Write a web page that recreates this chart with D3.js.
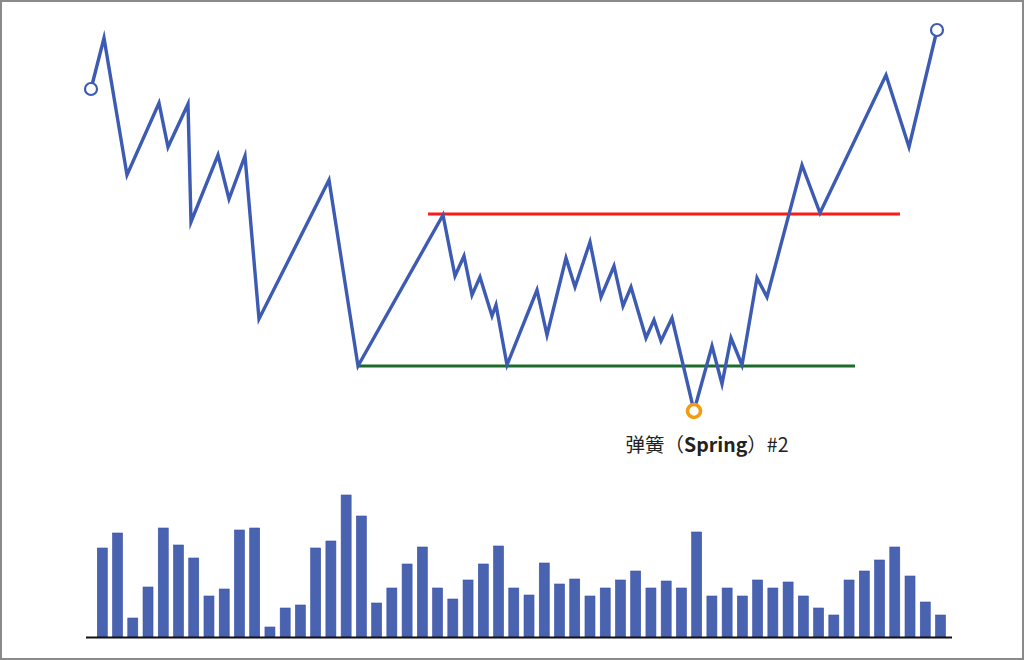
<!DOCTYPE html>
<html>
<head>
<meta charset="utf-8">
<script src="https://cdn.jsdelivr.net/npm/d3@7"></script>
<style>
html,body{margin:0;padding:0;background:#fff;}
svg{display:block;}
</style>
</head>
<body>
<svg id="chart" width="1024" height="660"></svg>
<script>
// ---- data ----
// time positions of price swing points
const priceTimes = [0, 13, 36, 68, 77, 97, 100, 127, 138, 154, 168, 238, 267, 352, 364, 373, 381, 389, 401, 405, 416, 446, 456, 475, 484, 499, 510, 523, 532, 540, 555, 563, 570, 581, 603, 621, 631, 640, 651, 666, 676, 711, 729, 795, 818, 846];
// price of each swing point
const priceValues = [361, 412, 275, 347, 303, 346, 228, 295, 251, 294, 131, 270, 84, 235, 174, 194, 155, 173, 134, 145, 85, 160, 115, 192, 163, 208, 153, 184, 144, 163, 112, 130, 109, 132, 39, 104, 66, 112, 85, 172, 153, 285, 237, 375, 303, 420];
// horizontal levels
const resistance = {name: "resistance", price: 236, from: 337, to: 809};
const support = {name: "support", price: 84, from: 267, to: 764};
// spring annotation
const springIndex = 34;
const springLabelCn1 = "弹簧（";
const springLabelEn = "Spring";
const springLabelCn2 = "）#2";
// volume bars
const volumes = [89, 104, 19, 50, 109, 92, 79, 41, 48, 107, 109, 10, 29, 32, 89, 96, 142, 121, 34, 49, 73, 90, 49, 38, 57, 73, 91, 49, 42, 74, 53, 58, 41, 49, 57, 66, 49, 56, 49, 105, 41, 49, 41, 57, 49, 55, 41, 29, 22, 57, 66, 77, 90, 61, 35, 22];

// ---- drawing ----
const svg = d3.select("#chart");
const W = 1024, H = 660;

svg.append("rect").attr("x", 1).attr("y", 1).attr("width", W - 2).attr("height", H - 2)
  .attr("fill", "#fff").attr("stroke", "#8a8a8a").attr("stroke-width", 2);

const x = d3.scaleLinear().domain([0, 846]).range([91, 937]);
const y = d3.scaleLinear().domain([0, 450]).range([450, 0]);

const blue = "#3d5bb3";

// level lines
svg.append("line")
  .attr("x1", x(support.from)).attr("x2", x(support.to))
  .attr("y1", y(support.price)).attr("y2", y(support.price))
  .attr("stroke", "#1c6b2a").attr("stroke-width", 3);
svg.append("line")
  .attr("x1", x(resistance.from)).attr("x2", x(resistance.to))
  .attr("y1", y(resistance.price)).attr("y2", y(resistance.price))
  .attr("stroke", "#ff1a1a").attr("stroke-width", 3);

const pts = priceTimes.map((t, i) => ({t, p: priceValues[i]}));
const line = d3.line().x(d => x(d.t)).y(d => y(d.p));
svg.append("path").datum(pts).attr("d", line)
  .attr("fill", "none").attr("stroke", blue).attr("stroke-width", 3.4)
  .attr("stroke-linejoin", "miter").attr("stroke-miterlimit", 10);

// endpoint circles
[pts[0], pts[pts.length - 1]].forEach(d => {
  svg.append("circle").attr("cx", x(d.t)).attr("cy", y(d.p)).attr("r", 6)
    .attr("fill", "#fff").attr("stroke", blue).attr("stroke-width", 2.2);
});

// spring marker
const sp = pts[springIndex];
svg.append("circle").attr("cx", x(sp.t)).attr("cy", y(sp.p)).attr("r", 6.5)
  .attr("fill", "#fff").attr("stroke", "#f39c12").attr("stroke-width", 3.6);

const label = svg.append("text")
  .attr("x", x(sp.t) + 13).attr("y", y(sp.p) + 41)
  .attr("text-anchor", "middle")
  .attr("font-family", "'Noto Sans CJK SC', 'Noto Sans', sans-serif")
  .attr("font-size", 19.5).attr("fill", "#222");
label.append("tspan").text(springLabelCn1);
label.append("tspan").attr("font-weight", "bold").text(springLabelEn);
label.append("tspan").text(springLabelCn2);

// volume bars
const xb = d3.scaleBand().domain(d3.range(volumes.length)).range([97.3, 945.5]).paddingInner(0.344).paddingOuter(0);
const yv = d3.scaleLinear().domain([0, 150]).range([637, 487]);
svg.append("g").selectAll("rect").data(volumes).join("rect")
  .attr("x", (d, i) => xb(i)).attr("width", xb.bandwidth())
  .attr("y", d => yv(d)).attr("height", d => yv(0) - yv(d))
  .attr("fill", "#4a63b0").attr("stroke", "#3a52a8").attr("stroke-width", 0.6);

svg.append("line").attr("x1", 86).attr("x2", 952).attr("y1", yv(0) + 0.5).attr("y2", yv(0) + 0.5)
  .attr("stroke", "#111").attr("stroke-width", 2);
</script>
</body>
</html>
